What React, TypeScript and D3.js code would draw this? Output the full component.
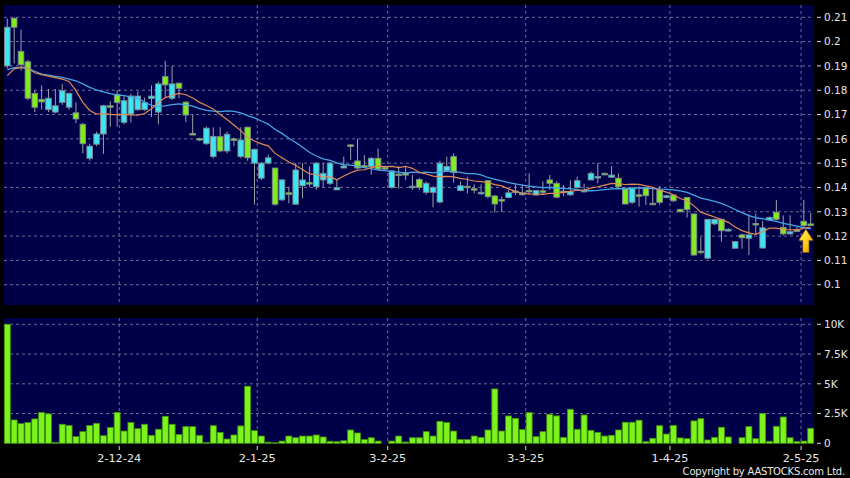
import React from 'react';
import * as d3 from 'd3';

// ---- data ----
const opens = [
  0.190, 0.2096, 0.196, 0.1917, 0.1787, 0.1762, 0.172, 0.171, 0.175, 0.173,
  0.1707, 0.166, 0.152, 0.1578, 0.162, 0.1736, 0.1783, 0.1668, 0.1702, 0.172,
  0.172, 0.1766, 0.171, 0.1856, 0.1767, 0.1829, 0.1751, 0.1622, 0.1601, 0.158,
  0.1527, 0.1609, 0.155, 0.160, 0.1527, 0.1648, 0.150, 0.1438, 0.150, 0.148,
  0.1349, 0.1378, 0.1331, 0.1407, 0.142, 0.1403, 0.1431, 0.1417, 0.139, 0.148,
  0.1575, 0.1509, 0.149, 0.1486, 0.152, 0.1482, 0.140, 0.1455, 0.146, 0.140,
  0.1433, 0.138, 0.138, 0.134, 0.1469, 0.1527, 0.1387, 0.1405, 0.1395, 0.138,
  0.1428, 0.1365, 0.135, 0.1359, 0.1385, 0.137, 0.1388, 0.1369, 0.1386, 0.1431,
  0.1417, 0.1385, 0.137, 0.140, 0.1388, 0.1431, 0.144, 0.1458, 0.1442, 0.1438,
  0.1397, 0.1339, 0.137, 0.140, 0.1335, 0.139, 0.1359, 0.1369, 0.131, 0.1359,
  0.1291, 0.1138, 0.1109, 0.125, 0.1269, 0.1221, 0.115, 0.1205, 0.1191, 0.1252,
  0.1151, 0.1266, 0.1298, 0.1236, 0.1209, 0.1225, 0.1261, 0.125,
];
const highs = [
  0.2095, 0.2100, 0.205, 0.1925, 0.180, 0.182, 0.1805, 0.1805, 0.1826, 0.179,
  0.175, 0.1665, 0.158, 0.163, 0.174, 0.1755, 0.180, 0.1775, 0.1785, 0.1794,
  0.177, 0.182, 0.1835, 0.192, 0.190, 0.183, 0.1755, 0.170, 0.1605, 0.165,
  0.1648, 0.1648, 0.163, 0.1605, 0.1648, 0.165, 0.156, 0.1505, 0.1535, 0.148,
  0.1435, 0.1403, 0.150, 0.150, 0.1487, 0.1505, 0.150, 0.1505, 0.1435, 0.1527,
  0.1578, 0.160, 0.1533, 0.1525, 0.156, 0.149, 0.147, 0.1488, 0.1486, 0.1452,
  0.144, 0.1425, 0.1405, 0.151, 0.1527, 0.154, 0.1425, 0.1444, 0.1413, 0.1413,
  0.143, 0.137, 0.1362, 0.139, 0.1413, 0.1413, 0.1458, 0.139, 0.1425, 0.1451,
  0.1425, 0.141, 0.143, 0.1445, 0.1415, 0.1465, 0.150, 0.1462, 0.1488, 0.1458,
  0.140, 0.1402, 0.1405, 0.1402, 0.1402, 0.1405, 0.137, 0.137, 0.1312, 0.136,
  0.1292, 0.1195, 0.127, 0.1272, 0.1272, 0.1232, 0.118, 0.121, 0.1289, 0.1292,
  0.1262, 0.128, 0.1349, 0.1285, 0.1285, 0.1238, 0.1349, 0.1295,
];
const lows = [
  0.189, 0.191, 0.188, 0.176, 0.171, 0.172, 0.171, 0.1705, 0.174, 0.172,
  0.1664, 0.154, 0.151, 0.157, 0.1538, 0.165, 0.165, 0.166, 0.1668, 0.1715,
  0.1715, 0.169, 0.166, 0.177, 0.176, 0.1767, 0.167, 0.162, 0.159, 0.1575,
  0.152, 0.1545, 0.154, 0.157, 0.152, 0.151, 0.133, 0.143, 0.1495, 0.1325,
  0.1345, 0.1335, 0.133, 0.1355, 0.1403, 0.139, 0.1403, 0.141, 0.139, 0.148,
  0.1513, 0.1475, 0.1486, 0.1452, 0.1472, 0.147, 0.1395, 0.1395, 0.143, 0.139,
  0.139, 0.137, 0.1318, 0.1335, 0.1465, 0.142, 0.1385, 0.1376, 0.1376, 0.137,
  0.1355, 0.1297, 0.130, 0.1355, 0.1368, 0.1367, 0.137, 0.1365, 0.137, 0.139,
  0.1355, 0.1365, 0.1365, 0.1395, 0.138, 0.143, 0.1417, 0.145, 0.144, 0.1395,
  0.133, 0.1332, 0.1321, 0.1328, 0.133, 0.133, 0.1355, 0.134, 0.1298, 0.1276,
  0.112, 0.1125, 0.1105, 0.1245, 0.1177, 0.1218, 0.1148, 0.1148, 0.1122, 0.1205,
  0.1148, 0.1262, 0.1265, 0.1202, 0.1205, 0.122, 0.1238, 0.1242,
];
const closes = [
  0.2059, 0.2059, 0.1905, 0.1767, 0.173, 0.1752, 0.1767, 0.1736, 0.1798, 0.1787,
  0.1682, 0.158, 0.157, 0.162, 0.1736, 0.173, 0.175, 0.1757, 0.1776, 0.1776,
  0.1749, 0.1776, 0.1826, 0.1822, 0.1826, 0.1808, 0.1698, 0.162, 0.160, 0.1644,
  0.161, 0.155, 0.1619, 0.1595, 0.1595, 0.1522, 0.1557, 0.150, 0.1522, 0.1331,
  0.1431, 0.1375, 0.1472, 0.1431, 0.1415, 0.150, 0.1458, 0.150, 0.1399, 0.1488,
  0.157, 0.148, 0.1488, 0.152, 0.1476, 0.148, 0.1468, 0.145, 0.1451, 0.1405,
  0.140, 0.1417, 0.140, 0.150, 0.1486, 0.1461, 0.1407, 0.140, 0.139, 0.138,
  0.1362, 0.1332, 0.1348, 0.1378, 0.1383, 0.1378, 0.1385, 0.1387, 0.1385, 0.1417,
  0.136, 0.138, 0.1383, 0.1428, 0.1387, 0.1458, 0.1445, 0.1455, 0.1451, 0.1403,
  0.1332, 0.1397, 0.1368, 0.1366, 0.1332, 0.1339, 0.1366, 0.1345, 0.130, 0.1309,
  0.1122, 0.1136, 0.1269, 0.1269, 0.1222, 0.1228, 0.1177, 0.1193, 0.1205, 0.125,
  0.1234, 0.1277, 0.1269, 0.1209, 0.1218, 0.1223, 0.1243, 0.1245,
];
// volume in thousands
const volumesK = [
  10.0, 1.96, 1.65, 1.74, 2.05, 2.6, 2.47, 0.08, 1.6, 1.5,
  0.56, 0.98, 1.5, 1.68, 0.64, 1.32, 2.6, 1.03, 1.74, 1.23,
  1.6, 0.67, 1.18, 2.27, 1.6, 0.73, 1.4, 1.4, 0.67, 0.08,
  1.48, 0.92, 0.36, 0.7, 1.46, 4.8, 1.06, 0.61, 0.1, 0.05,
  0.19, 0.61, 0.47, 0.61, 0.61, 0.7, 0.53, 0.17, 0.14, 0.22,
  1.12, 0.87, 0.31, 0.47, 0.19, 0.02, 0.19, 0.61, 0.11, 0.47,
  0.47, 0.98, 0.61, 1.85, 1.74, 1.03, 0.31, 0.31, 0.61, 0.5,
  1.12, 4.57, 1.03, 2.3, 2.1, 1.15, 2.58, 0.56, 0.98, 2.44,
  2.3, 0.5, 2.86, 1.18, 2.38, 1.09, 0.92, 0.61, 0.67, 1.12,
  1.77, 1.77, 1.94, 0.14, 0.42, 1.48, 0.78, 1.51, 0.45, 0.39,
  1.88, 2.07, 0.28, 0.5, 1.35, 0.53, 0, 0.47, 1.4, 0.39,
  2.52, 0.17, 1.43, 2.21, 0.47, 0.14, 0.19, 1.26,
];
// moving averages before the window is full
const ma10Head = [0.186, 0.1888, 0.1894, 0.189, 0.1872, 0.1864, 0.1858, 0.1852, 0.1846];
const ma20Head = [
  0.1885, 0.1893, 0.1894, 0.189, 0.1878, 0.1866, 0.1862, 0.1857, 0.1853, 0.1846,
  0.1839, 0.1826, 0.1812, 0.1801, 0.1793, 0.1786, 0.1781, 0.1778, 0.1773,
];
const priceTicks = [0.1, 0.11, 0.12, 0.13, 0.14, 0.15, 0.16, 0.17, 0.18, 0.19, 0.2, 0.21];
const priceTickLabels = ['0.1', '0.11', '0.12', '0.13', '0.14', '0.15', '0.16', '0.17', '0.18', '0.19', '0.2', '0.21'];
const volTicks = [0, 2500, 5000, 7500, 10000];
const volTickLabels = ['0', '2.5K', '5K', '7.5K', '10K'];
const dateLabels = ['2-12-24', '2-1-25', '3-2-25', '3-3-25', '1-4-25', '2-5-25'];
const datePos = [16.3, 36.4, 55.4, 75.5, 96.5, 115.6]; // in bar-index units

const W = 850;
const H = 478;
const left = 4;
const right = 814;
const mainTop = 5;
const mainBottom = 305;
const volTop = 318;
const volBottom = 444;

const FONT = 'DejaVu Sans, Verdana, sans-serif';
const UP = '#3ee4f2';
const DOWN = '#80ec1e';
const GRID = '#6c6c9c';

export default function App() {
  const N = closes.length;
  const x = d3.scaleLinear().domain([0, N - 1]).range([7.3, 810.7]);
  const y = d3.scaleLinear().domain([0.1, 0.21]).range([284.7, 17.3]);
  const yv = d3.scaleLinear().domain([0, 10000]).range([443.3, 324.3]);

  const ma = (period: number, head: number[]) =>
    closes.map((c, i) => (i < period - 1 ? head[i] : (d3.mean(closes.slice(i - period + 1, i + 1)) as number)));
  const ma10 = ma(10, ma10Head);
  const ma20 = ma(20, ma20Head);
  const line = d3
    .line<number>()
    .x((_, i) => x(i))
    .y((d) => y(d));

  const bw = 5.6;
  const vw = 6;

  const lastIdx = N - 1;
  const arrowCx = x(lastIdx) - 4.8;
  const arrowTop = y(Math.min(lows[lastIdx], lows[lastIdx - 1])) + 2.5;

  return (
    <svg
      width={W}
      height={H}
      style={{ position: 'fixed', left: 0, top: 0, display: 'block', background: '#000' }}
    >
      <defs>
        <linearGradient id="arrowGrad" x1="0" y1="0" x2="1" y2="1">
          <stop offset="0" stopColor="#fff27a" />
          <stop offset="0.5" stopColor="#ffd21e" />
          <stop offset="1" stopColor="#e49a00" />
        </linearGradient>
        <clipPath id="mainClip">
          <rect x={left} y={mainTop} width={right - left} height={mainBottom - mainTop} />
        </clipPath>
      </defs>
      <rect x={0} y={0} width={W} height={H} fill="#000" />
      {/* panels */}
      <rect x={left} y={mainTop} width={right - left} height={mainBottom - mainTop} fill="#000048" />
      <rect x={left} y={volTop} width={right - left} height={volBottom - volTop} fill="#000048" />

      {/* grid main */}
      {priceTicks.map((t) => (
        <line key={'pg' + t} x1={left} x2={right} y1={y(t)} y2={y(t)} stroke={GRID} strokeDasharray="3,3" />
      ))}
      {datePos.map((p, i) => (
        <line key={'dg' + i} x1={x(p)} x2={x(p)} y1={mainTop} y2={mainBottom} stroke={GRID} strokeDasharray="3,3" />
      ))}
      {/* grid volume */}
      {volTicks.slice(1).map((t) => (
        <line key={'vg' + t} x1={left} x2={right} y1={yv(t)} y2={yv(t)} stroke={GRID} strokeDasharray="3,3" />
      ))}
      {datePos.map((p, i) => (
        <line key={'dvg' + i} x1={x(p)} x2={x(p)} y1={volTop} y2={volBottom} stroke={GRID} strokeDasharray="3,3" />
      ))}

      {/* candles */}
      <g clipPath="url(#mainClip)">
        {closes.map((c, i) => {
          const o = opens[i];
          const up = c >= o;
          const top = y(Math.max(o, c));
          const bot = y(Math.min(o, c));
          const h = Math.max(bot - top, 1.5);
          return (
            <g key={'c' + i}>
              <line x1={x(i)} x2={x(i)} y1={y(highs[i])} y2={y(lows[i])} stroke="#9aa0a8" strokeWidth={1} />
              <rect
                x={x(i) - bw / 2}
                y={top}
                width={bw}
                height={h}
                fill={up ? UP : DOWN}
                stroke="#7d8890"
                strokeWidth={0.9}
              />
            </g>
          );
        })}
        <path d={line(ma20) || ''} fill="none" stroke="#44a6e6" strokeWidth={1.3} />
        <path d={line(ma10) || ''} fill="none" stroke="#e08a55" strokeWidth={1.2} />
      </g>

      {/* arrow */}
      <path
        d={`M${arrowCx},${arrowTop} L${arrowCx + 7},${arrowTop + 11} L${arrowCx + 3},${arrowTop + 11} L${arrowCx + 3},${arrowTop + 23} L${arrowCx - 3},${arrowTop + 23} L${arrowCx - 3},${arrowTop + 11} L${arrowCx - 7},${arrowTop + 11} Z`}
        fill="url(#arrowGrad)"
        stroke="#b87800"
        strokeWidth={0.6}
      />

      {/* volume bars */}
      {volumesK.map((v, i) => {
        const val = v * 1000;
        const top = yv(val);
        const h = yv(0) - top;
        if (h < 0.3) return null;
        return (
          <rect
            key={'v' + i}
            x={x(i) - vw / 2}
            y={top}
            width={vw}
            height={h}
            fill="#7cf41c"
            stroke="#3f8f0c"
            strokeWidth={0.8}
          />
        );
      })}

      {/* right price axis */}
      {priceTicks.map((t, i) => (
        <g key={'pl' + t}>
          <line x1={817} x2={821} y1={y(t)} y2={y(t)} stroke="#d8d8d8" />
          <text x={824} y={y(t)} dy="0.36em" fill="#e4e4e4" fontSize={10.5} fontFamily={FONT}>
            {priceTickLabels[i]}
          </text>
        </g>
      ))}
      {/* right volume axis */}
      {volTicks.map((t, i) => (
        <g key={'vl' + t}>
          <line x1={817} x2={821} y1={yv(t)} y2={yv(t)} stroke="#d8d8d8" />
          <text x={824} y={yv(t)} dy="0.36em" fill="#e4e4e4" fontSize={10.5} fontFamily={FONT}>
            {volTickLabels[i]}
          </text>
        </g>
      ))}
      {/* date axis */}
      {datePos.map((p, i) => (
        <g key={'dl' + i}>
          <line x1={x(p)} x2={x(p)} y1={446} y2={450} stroke="#d8d8d8" />
          <text x={x(p)} y={462} textAnchor="middle" fill="#e8e8e8" fontSize={11.3} fontFamily={FONT}>
            {dateLabels[i]}
          </text>
        </g>
      ))}
      <text x={845} y={475} textAnchor="end" fill="#e8e8e8" fontSize={10} letterSpacing={-0.2} fontFamily={FONT}>
        Copyright by AASTOCKS.com Ltd.
      </text>
    </svg>
  );
}
